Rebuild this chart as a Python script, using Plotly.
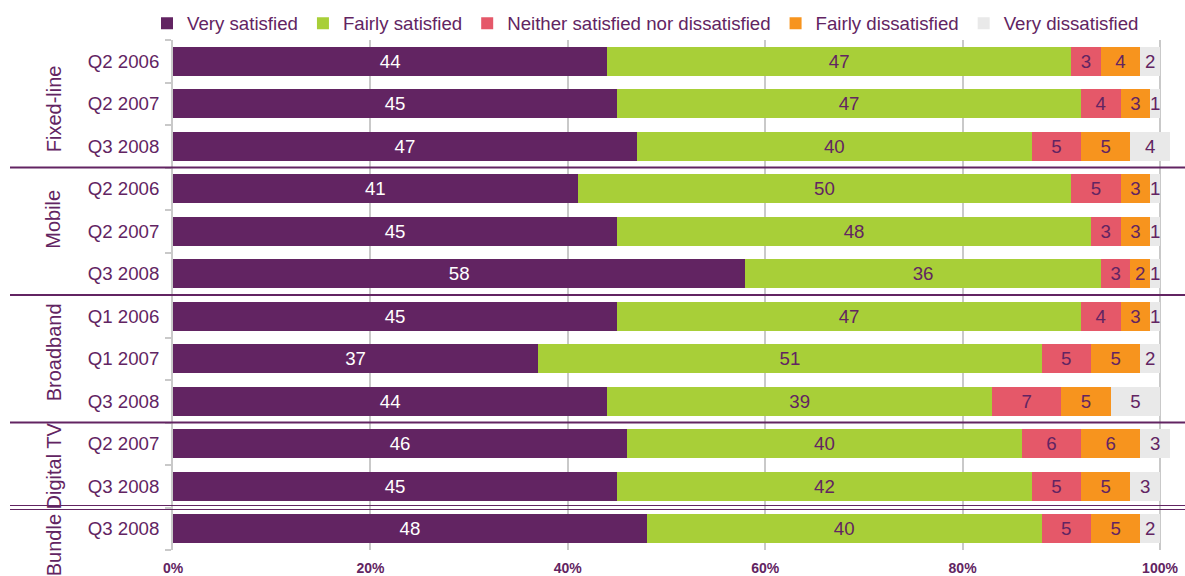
import plotly.graph_objects as go

# Survey rows, top to bottom
groups = ["Fixed-line", "Fixed-line", "Fixed-line",
          "Mobile", "Mobile", "Mobile",
          "Broadband", "Broadband", "Broadband",
          "Digital TV", "Digital TV",
          "Bundle"]
periods = ["Q2 2006", "Q2 2007", "Q3 2008",
           "Q2 2006", "Q2 2007", "Q3 2008",
           "Q1 2006", "Q1 2007", "Q3 2008",
           "Q2 2007", "Q3 2008",
           "Q3 2008"]

very_satisfied = [44, 45, 47, 41, 45, 58, 45, 37, 44, 46, 45, 48]
fairly_satisfied = [47, 47, 40, 50, 48, 36, 47, 51, 39, 40, 42, 40]
neither = [3, 4, 5, 5, 3, 3, 4, 5, 7, 6, 5, 5]
fairly_dissatisfied = [4, 3, 5, 3, 3, 2, 3, 5, 5, 6, 5, 5]
very_dissatisfied = [2, 1, 4, 1, 1, 1, 1, 2, 5, 3, 3, 2]

x_ticks = [0, 20, 40, 60, 80, 100]
x_tick_labels = ["0%", "20%", "40%", "60%", "80%", "100%"]

series = [
    ("Very satisfied", very_satisfied, "#622462", "#ffffff"),
    ("Fairly satisfied", fairly_satisfied, "#a8cf38", "#622462"),
    ("Neither satisfied nor dissatisfied", neither, "#e55869", "#622462"),
    ("Fairly dissatisfied", fairly_dissatisfied, "#f7941e", "#622462"),
    ("Very dissatisfied", very_dissatisfied, "#e9e9e9", "#622462"),
]

PURPLE = "#622462"
GRID = "#c9c9c9"
FONT = "Liberation Sans, Arial, sans-serif"
TXT = 18.67

rows = list(range(len(periods)))

fig = go.Figure()
for name, vals, color, tcolor in series:
    fig.add_trace(go.Bar(
        y=rows, x=vals, name=name, orientation="h",
        marker=dict(color=color, line=dict(width=0)),
        width=0.68,
        text=[str(v) for v in vals],
        textposition="inside",
        insidetextanchor="middle",
        textangle=0,
        constraintext="none",
        textfont=dict(color=tcolor, size=TXT, family=FONT),
        hoverinfo="skip",
    ))

n = len(rows)
W, H = 1185, 576
ml, mr, mt, mb = 173, 5, 40, 26
plot_w = W - ml - mr
plot_h = H - mt - mb
x_max = plot_w / 9.87


def row_to_paper(r):
    # y axis runs from -0.5 (top) to n-0.5 (bottom)
    return 1 - (r + 0.5) / n


shapes = []
annotations = []
x_left = (10 - ml) / plot_w
x_right = (W - ml) / plot_w

# vertical nudges for the rotated group titles (px, positive = up)
title_shift = {"Fixed-line": -5, "Mobile": 12, "Broadband": 6, "Digital TV": -1, "Bundle": -17}

# separators and group titles
start = 0
for i in range(1, n + 1):
    if i == n or groups[i] != groups[start]:
        if i < n:
            yb = row_to_paper(i - 0.5)
            if groups[i] == "Bundle":
                off = 2.0 / plot_h
                for d in (-off, off):
                    shapes.append(dict(type="line", xref="paper", yref="paper",
                                       x0=x_left, x1=x_right, y0=yb + d, y1=yb + d,
                                       line=dict(color=PURPLE, width=1.2)))
            else:
                shapes.append(dict(type="line", xref="paper", yref="paper",
                                   x0=x_left, x1=x_right, y0=yb, y1=yb,
                                   line=dict(color=PURPLE, width=2)))
        mid = (start + i - 1) / 2
        annotations.append(dict(
            text=groups[start], xref="paper", yref="paper",
            x=(53.5 - ml) / plot_w, y=row_to_paper(mid),
            yshift=title_shift.get(groups[start], 0),
            textangle=-90, showarrow=False,
            font=dict(color=PURPLE, size=20, family=FONT),
            xanchor="center", yanchor="middle"))
        start = i

fig.update_layout(
    width=W, height=H,
    margin=dict(l=ml, r=mr, t=mt, b=mb, pad=0, autoexpand=False),
    barmode="stack",
    paper_bgcolor="white",
    plot_bgcolor="white",
    font=dict(family=FONT, color=PURPLE),
    showlegend=True,
    legend=dict(orientation="h", x=(147 - ml) / plot_w, xanchor="left",
                y=1 + (mt - 23.5) / plot_h, yanchor="middle",
                font=dict(size=TXT, color=PURPLE, family=FONT),
                itemwidth=30, traceorder="normal",
                bgcolor="rgba(0,0,0,0)"),
    xaxis=dict(range=[0, x_max], tickmode="array", tickvals=x_ticks, ticktext=x_tick_labels,
               showgrid=True, gridcolor=GRID, gridwidth=2,
               zeroline=False, showline=False, automargin=False,
               ticks="", ticklabelstandoff=8,
               tickfont=dict(size=14, color=PURPLE, family=FONT, weight="bold")),
    yaxis=dict(range=[n - 0.5, -0.5], tickmode="array", tickvals=rows, ticktext=periods,
               showgrid=False, zeroline=False, automargin=False,
               showline=True, linecolor=GRID, linewidth=2,
               ticks="outside", ticklen=6, tickcolor="rgba(0,0,0,0)",
               ticklabelstandoff=2,
               tickfont=dict(size=TXT, color=PURPLE, family=FONT),
               minor=dict(tickmode="linear", tick0=0.5, dtick=1, ticks="outside",
                          ticklen=6, tickcolor=GRID, tickwidth=2, showgrid=False)),
    shapes=shapes,
    annotations=annotations,
)

fig.write_html("out.html")
